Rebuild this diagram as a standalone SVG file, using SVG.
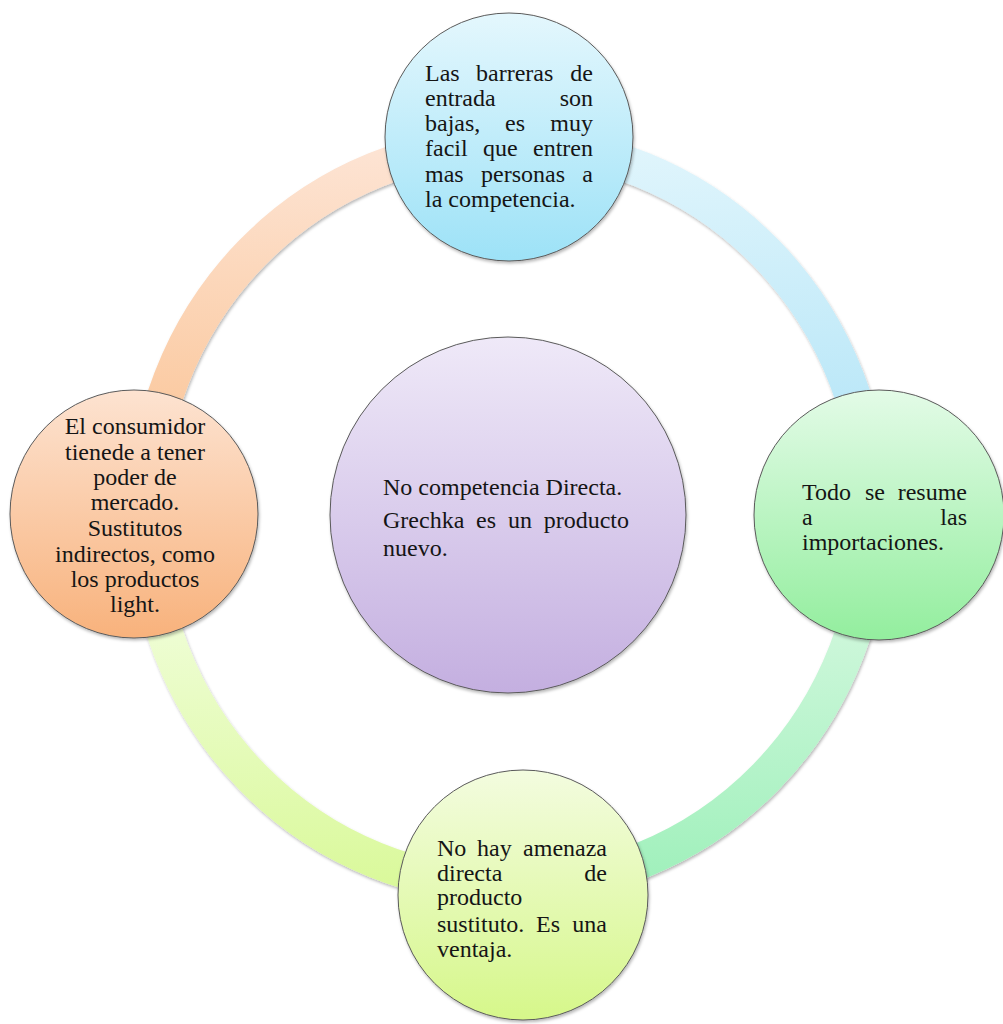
<svg xmlns="http://www.w3.org/2000/svg" width="1003" height="1024" viewBox="0 0 1003 1024">
  <style>
    .t { font-family: "Liberation Serif", "Times New Roman", serif; font-size: 24px; fill: #151515; }
    .m { text-anchor: middle; }
    .e { text-anchor: end; }
    .arc { fill: none; stroke-width: 36; filter: url(#sh); }
    .node { stroke: #5a5a5a; stroke-width: 1; filter: url(#sh); }
  </style>
  <defs>
    <filter id="sh" x="-10%" y="-10%" width="120%" height="120%">
      <feDropShadow dx="1" dy="2" stdDeviation="1.5" flood-color="#000" flood-opacity="0.28"/>
    </filter>
    <linearGradient id="gTL" gradientUnits="userSpaceOnUse" x1="0" y1="145" x2="0" y2="400">
      <stop offset="0" stop-color="#fde4d4"/>
      <stop offset="1" stop-color="#fbcba3"/>
    </linearGradient>
    <linearGradient id="gTR" gradientUnits="userSpaceOnUse" x1="0" y1="145" x2="0" y2="400">
      <stop offset="0" stop-color="#e0f5fc"/>
      <stop offset="1" stop-color="#bce8f8"/>
    </linearGradient>
    <linearGradient id="gBR" gradientUnits="userSpaceOnUse" x1="0" y1="630" x2="0" y2="885">
      <stop offset="0" stop-color="#cdf7da"/>
      <stop offset="1" stop-color="#9ff0bb"/>
    </linearGradient>
    <linearGradient id="gBL" gradientUnits="userSpaceOnUse" x1="0" y1="630" x2="0" y2="885">
      <stop offset="0" stop-color="#eefdd3"/>
      <stop offset="1" stop-color="#daf99b"/>
    </linearGradient>
    <linearGradient id="cTop" x1="0" y1="0" x2="0" y2="1">
      <stop offset="0" stop-color="#e4f7fd"/>
      <stop offset="1" stop-color="#9de2f7"/>
    </linearGradient>
    <linearGradient id="cRight" x1="0" y1="0" x2="0" y2="1">
      <stop offset="0" stop-color="#e3fbe7"/>
      <stop offset="1" stop-color="#93ee9e"/>
    </linearGradient>
    <linearGradient id="cBottom" x1="0" y1="0" x2="0" y2="1">
      <stop offset="0" stop-color="#f3fcdf"/>
      <stop offset="1" stop-color="#d6f78a"/>
    </linearGradient>
    <linearGradient id="cLeft" x1="0" y1="0" x2="0" y2="1">
      <stop offset="0" stop-color="#fde3d1"/>
      <stop offset="1" stop-color="#f8b27c"/>
    </linearGradient>
    <linearGradient id="cCenter" x1="0" y1="0" x2="0" y2="1">
      <stop offset="0" stop-color="#efe9f8"/>
      <stop offset="1" stop-color="#c4afe0"/>
    </linearGradient>
  </defs>

  <rect width="1003" height="1024" fill="#ffffff"/>

  <g id="connectors">
    <path class="arc" stroke="url(#gTL)" d="M146,515 A363,371 0 0 1 509,144"/>
    <path class="arc" stroke="url(#gTR)" d="M509,144 A363,371 0 0 1 872,515"/>
    <path class="arc" stroke="url(#gBR)" d="M872,515 A363,371 0 0 1 509,886"/>
    <path class="arc" stroke="url(#gBL)" d="M509,886 A363,371 0 0 1 146,515"/>
  </g>

  <g id="node-center">
    <circle class="node" cx="508" cy="515" r="178" fill="url(#cCenter)"/>
    <text class="t" x="383" y="495">No competencia Directa.</text>
    <text class="t" x="383" y="528">Grechka</text>
    <text class="t" x="476" y="528">es</text>
    <text class="t" x="508" y="528">un</text>
    <text class="t e" x="629" y="528">producto</text>
    <text class="t" x="383" y="556">nuevo.</text>
  </g>

  <g id="node-top">
    <circle class="node" cx="509" cy="137" r="124" fill="url(#cTop)"/>
    <text class="t" x="425" y="81">Las</text>
    <text class="t" x="476" y="81">barreras</text>
    <text class="t e" x="593" y="81">de</text>
    <text class="t" x="425" y="106">entrada</text>
    <text class="t e" x="593" y="106">son</text>
    <text class="t" x="425" y="131">bajas,</text>
    <text class="t" x="505" y="131">es</text>
    <text class="t e" x="593" y="131">muy</text>
    <text class="t" x="425" y="156">facil</text>
    <text class="t" x="483" y="156">que</text>
    <text class="t e" x="593" y="156">entren</text>
    <text class="t" x="425" y="182">mas</text>
    <text class="t" x="481" y="182">personas</text>
    <text class="t e" x="593" y="182">a</text>
    <text class="t" x="425" y="207">la competencia.</text>
  </g>

  <g id="node-right">
    <circle class="node" cx="879" cy="515" r="125" fill="url(#cRight)"/>
    <text class="t" x="802" y="500">Todo</text>
    <text class="t" x="865" y="500">se</text>
    <text class="t e" x="967" y="500">resume</text>
    <text class="t" x="802" y="525">a</text>
    <text class="t e" x="967" y="525">las</text>
    <text class="t" x="802" y="550">importaciones.</text>
  </g>

  <g id="node-bottom">
    <circle class="node" cx="523" cy="895" r="125" fill="url(#cBottom)"/>
    <text class="t" x="437" y="856">No</text>
    <text class="t" x="477" y="856">hay</text>
    <text class="t e" x="607" y="856">amenaza</text>
    <text class="t" x="437" y="881">directa</text>
    <text class="t e" x="607" y="881">de</text>
    <text class="t" x="437" y="905">producto</text>
    <text class="t" x="437" y="932">sustituto.</text>
    <text class="t" x="536" y="932">Es</text>
    <text class="t e" x="607" y="932">una</text>
    <text class="t" x="437" y="957">ventaja.</text>
  </g>

  <g id="node-left">
    <circle class="node" cx="134" cy="514" r="124" fill="url(#cLeft)"/>
    <text class="t m" x="135" y="434">El consumidor</text>
    <text class="t m" x="135" y="460">tienede a tener</text>
    <text class="t m" x="135" y="485">poder de</text>
    <text class="t m" x="135" y="510">mercado.</text>
    <text class="t m" x="135" y="536">Sustitutos</text>
    <text class="t m" x="135" y="562">indirectos, como</text>
    <text class="t m" x="135" y="587">los productos</text>
    <text class="t m" x="135" y="612">light.</text>
  </g>
</svg>
